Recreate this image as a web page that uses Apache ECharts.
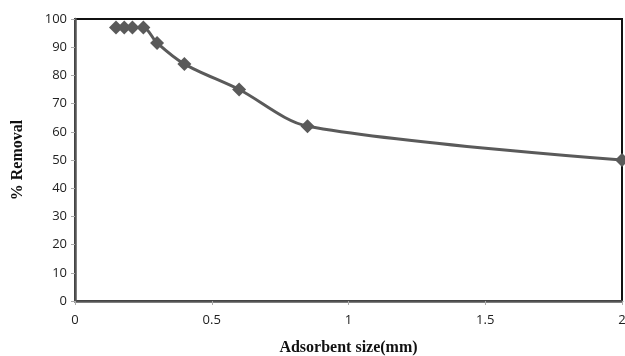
<!DOCTYPE html>
<html>
<head>
<meta charset="utf-8">
<script src="https://cdn.jsdelivr.net/npm/echarts@6/dist/echarts.min.js"></script>
<style>
  html, body { margin: 0; padding: 0; background: #fff; }
  #chart { width: 625px; height: 356px; }
</style>
</head>
<body>
<div id="chart"></div>
<script>
// Adsorbent particle size (mm) and percent removal
const sizes = [0.15, 0.18, 0.21, 0.25, 0.3, 0.4, 0.6, 0.85, 2];
const removal = [97, 97, 97, 97, 91.5, 84, 75, 62, 50];
const xTicks = [0, 0.5, 1, 1.5, 2];
const yTicks = [0, 10, 20, 30, 40, 50, 60, 70, 80, 90, 100];

const chart = echarts.init(document.getElementById('chart'));
const labelFont = { fontFamily: 'Open Sans, sans-serif', fontSize: 13, color: '#222' };
const titleFont = { fontFamily: 'Liberation Serif, serif', fontWeight: 'bold', fontSize: 16, color: '#111' };

chart.setOption({
  animation: false,
  grid: {
    left: 75, right: 3, top: 19, bottom: 55,
    outerBoundsMode: 'none',
    containLabel: false,
    show: true, borderColor: '#111', borderWidth: 2, backgroundColor: '#fff'
  },
  xAxis: {
    type: 'value',
    min: xTicks[0], max: xTicks[xTicks.length - 1], interval: 0.5,
    name: 'Adsorbent size(mm)',
    nameLocation: 'middle', nameGap: 39,
    nameTextStyle: titleFont,
    axisLine: { lineStyle: { color: '#555', width: 2.5 } },
    axisTick: { show: true, length: 4, lineStyle: { color: '#aaa' } },
    axisLabel: Object.assign({ margin: 13, formatter: v => String(v) }, labelFont),
    splitLine: { show: false }
  },
  yAxis: {
    type: 'value',
    min: yTicks[0], max: yTicks[yTicks.length - 1], interval: 10,
    name: '% Removal',
    nameLocation: 'middle', nameGap: 49,
    nameTextStyle: titleFont,
    axisLine: { lineStyle: { color: '#555', width: 2.5 } },
    axisTick: { show: true, length: 4, lineStyle: { color: '#aaa' } },
    axisLabel: Object.assign({ margin: 8 }, labelFont),
    splitLine: { show: false }
  },
  series: [{
    type: 'line',
    data: sizes.map((x, i) => [x, removal[i]]),
    smooth: 0.3,
    symbol: 'diamond',
    symbolSize: 14,
    lineStyle: { color: '#5a5a5a', width: 3 },
    itemStyle: { color: '#5a5a5a' },
    clip: false
  }]
});
</script>
</body>
</html>
